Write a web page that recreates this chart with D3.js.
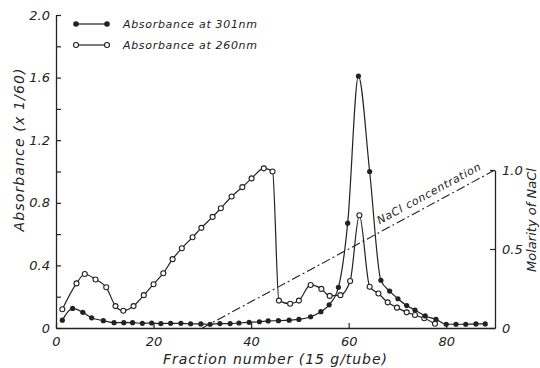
<!DOCTYPE html>
<html>
<head>
<meta charset="utf-8">
<script src="https://cdn.jsdelivr.net/npm/d3@7"></script>
<style>
    html, body { margin: 0; padding: 0; background: #fff; }
    svg text { font-family: "DejaVu Sans", sans-serif; font-style: italic; fill: #222; }
</style>
</head>
<body>
<div id="chart"></div>
<script>
'use strict';

// absorbance at 301 nm (filled circles)
const fraction301 = [1.3, 3.4, 5.5, 7.3, 9.7, 11.9, 13.9, 15.7, 17.7, 19.6, 21.5, 23.5, 25.6, 27.6, 29.7,
    31.6, 33.6, 35.7, 37.5, 39.6, 41.7, 43.5, 45.6, 47.8, 49.8, 52.2, 54.3, 56.0, 57.9, 59.8, 62.0, 64.3,
    66.6, 68.4, 70.1, 71.9, 73.6, 75.7, 77.9, 80.0, 82.0, 84.0, 86.1, 88.0];
const abs301 = [0.05, 0.125, 0.10, 0.065, 0.047, 0.034, 0.034, 0.034, 0.03, 0.032, 0.028, 0.03, 0.03, 0.027, 0.026,
    0.024, 0.028, 0.028, 0.032, 0.036, 0.04, 0.045, 0.047, 0.05, 0.055, 0.072, 0.104, 0.148, 0.26, 0.67, 1.61, 1.0,
    0.305, 0.236, 0.187, 0.143, 0.115, 0.077, 0.055, 0.024, 0.024, 0.024, 0.026, 0.026];

// absorbance at 260 nm (open circles)
const fraction260 = [1.3, 4.2, 5.9, 8.1, 10.3, 12.2, 13.8, 15.9, 18.0, 20.0, 22.0, 23.9, 25.8, 28.0, 29.8,
    32.1, 33.8, 36.0, 38.2, 40.1, 42.6, 44.4, 45.7, 48.0, 49.8, 52.2, 54.4, 56.1, 58.3, 60.3, 62.2, 64.3,
    66.1, 68.0, 69.9, 71.9, 73.6, 75.5, 77.7];
const abs260 = [0.12, 0.285, 0.345, 0.31, 0.26, 0.14, 0.11, 0.14, 0.21, 0.28, 0.35, 0.44, 0.51, 0.58, 0.64,
    0.71, 0.765, 0.84, 0.90, 0.956, 1.02, 1.0, 0.175, 0.155, 0.175, 0.275, 0.25, 0.205, 0.21, 0.30, 0.72, 0.264,
    0.22, 0.164, 0.13, 0.10, 0.083, 0.062, 0.027];

// NaCl gradient (right axis)
const naclFraction = [30, 90];
const naclMolarity = [0, 1.0];

const absTicks = [0, 0.2, 0.4, 0.6, 0.8, 1.0, 1.2, 1.4, 1.6, 1.8, 2.0];
const absLabels = [0, 0.4, 0.8, 1.2, 1.6, 2.0];
const fractionTicks = [0, 20, 40, 60, 80];
const molarityTicks = [0, 0.5, 1.0];

const legendLabels = ['Absorbance at 301nm', 'Absorbance at 260nm'];

(function(doc) {

    const ink = '#222';
    const svg = d3.select('#chart').append('svg')
        .attr('width', 540)
        .attr('height', 368);

    const x = d3.scaleLinear().domain([0, 90]).range([56, 495]);
    const y = d3.scaleLinear().domain([0, 2.0]).range([328, 15]);
    const yR = d3.scaleLinear().domain([0, 1.0]).range([328, 170]);

    const fmt = (d) => d === 0 ? '0' : d.toFixed(1);

    const styleAxis = (g) => {
        g.select('.domain').attr('stroke', ink).attr('stroke-width', 1.3);
        g.selectAll('.tick line').attr('stroke', ink).attr('stroke-width', 1.2);
        g.selectAll('.tick text')
            .attr('font-size', 13)
            .attr('font-family', null)
            .attr('fill', ink);
        g.attr('font-family', null).attr('font-size', null);
    };

    // left axis
    svg.append('g')
        .attr('transform', `translate(${x(0)},0)`)
        .call(d3.axisLeft(y)
            .tickValues(absTicks)
            .tickSizeInner(-5)
            .tickSizeOuter(0)
            .tickPadding(6)
            .tickFormat((d) => absLabels.some((v) => Math.abs(v - d) < 1e-9) ? fmt(d) : ''))
        .call(styleAxis);

    // bottom axis
    svg.append('g')
        .attr('transform', `translate(0,${y(0)})`)
        .call(d3.axisBottom(x)
            .tickValues(fractionTicks)
            .tickSizeInner(-5)
            .tickSizeOuter(0)
            .tickPadding(9)
            .tickFormat(d3.format('d')))
        .call(styleAxis);

    // right axis (molarity)
    svg.append('g')
        .attr('transform', `translate(${x(90)},0)`)
        .call(d3.axisRight(yR)
            .tickValues(molarityTicks)
            .tickSizeInner(-5)
            .tickSizeOuter(0)
            .tickPadding(7)
            .tickFormat(fmt))
        .call(styleAxis);

    // axis titles
    svg.append('text')
        .attr('x', 275)
        .attr('y', 364)
        .attr('text-anchor', 'middle')
        .attr('font-size', 14)
        .attr('textLength', 224)
        .attr('lengthAdjust', 'spacing')
        .text('Fraction number (15 g/tube)');

    svg.append('text')
        .attr('transform', 'translate(24,150) rotate(-90)')
        .attr('text-anchor', 'middle')
        .attr('font-size', 14)
        .attr('textLength', 163)
        .attr('lengthAdjust', 'spacing')
        .text('Absorbance (x 1/60)');

    svg.append('text')
        .attr('transform', 'translate(536,272) rotate(-90)')
        .attr('text-anchor', 'start')
        .attr('font-size', 13)
        .attr('textLength', 104)
        .attr('lengthAdjust', 'spacing')
        .text('Molarity of NaCl');

    // NaCl gradient line + label
    const nacl = naclFraction.map((f, i) => [f, naclMolarity[i]]);
    svg.append('path')
        .datum(nacl)
        .attr('fill', 'none')
        .attr('stroke', ink)
        .attr('stroke-width', 1.1)
        .attr('stroke-dasharray', '9,3,2,3')
        .attr('d', d3.line().x((d) => x(d[0])).y((d) => yR(d[1])));

    const angle = Math.atan2(yR(naclMolarity[0]) - yR(naclMolarity[1]),
        x(naclFraction[1]) - x(naclFraction[0])) * 180 / Math.PI;
    const labelF = 67;
    const labelM = naclMolarity[0] + (labelF - naclFraction[0]) / (naclFraction[1] - naclFraction[0]) *
        (naclMolarity[1] - naclMolarity[0]);
    svg.append('text')
        .attr('transform', `translate(${x(labelF)},${yR(labelM)}) rotate(${-angle}) translate(0,-7)`)
        .attr('font-size', 11)
        .attr('textLength', 116)
        .attr('lengthAdjust', 'spacing')
        .text('NaCl concentration');

    // data series
    const series301 = fraction301.map((f, i) => [f, abs301[i]]);
    const series260 = fraction260.map((f, i) => [f, abs260[i]]);
    const line = d3.line()
        .x((d) => x(d[0]))
        .y((d) => y(d[1]))
        .curve(d3.curveMonotoneX);

    [series260, series301].forEach((s) => {
        svg.append('path')
            .datum(s)
            .attr('fill', 'none')
            .attr('stroke', ink)
            .attr('stroke-width', 1.2)
            .attr('d', line);
    });

    svg.append('g').selectAll('circle')
        .data(series260).enter().append('circle')
        .attr('cx', (d) => x(d[0]))
        .attr('cy', (d) => y(d[1]))
        .attr('r', 2.5)
        .attr('fill', '#fff')
        .attr('stroke', ink)
        .attr('stroke-width', 1.1);

    svg.append('g').selectAll('circle')
        .data(series301).enter().append('circle')
        .attr('cx', (d) => x(d[0]))
        .attr('cy', (d) => y(d[1]))
        .attr('r', 2.6)
        .attr('fill', ink);

    // legend
    const legend = svg.append('g');
    legendLabels.forEach((label, i) => {
        const ly = 24 + i * 21;
        const filled = i === 0;
        legend.append('line')
            .attr('x1', 76).attr('x2', 107)
            .attr('y1', ly).attr('y2', ly)
            .attr('stroke', ink)
            .attr('stroke-width', 1.2);
        [76, 107].forEach((cx) => {
            legend.append('circle')
                .attr('cx', cx).attr('cy', ly)
                .attr('r', filled ? 2.8 : 2.5)
                .attr('fill', filled ? ink : '#fff')
                .attr('stroke', ink)
                .attr('stroke-width', filled ? 0 : 1.1);
        });
        legend.append('text')
            .attr('x', 123)
            .attr('y', ly + 4)
            .attr('font-size', 11)
            .attr('textLength', 134)
            .attr('lengthAdjust', 'spacing')
            .text(label);
    });

}(document));
</script>
</body>
</html>
